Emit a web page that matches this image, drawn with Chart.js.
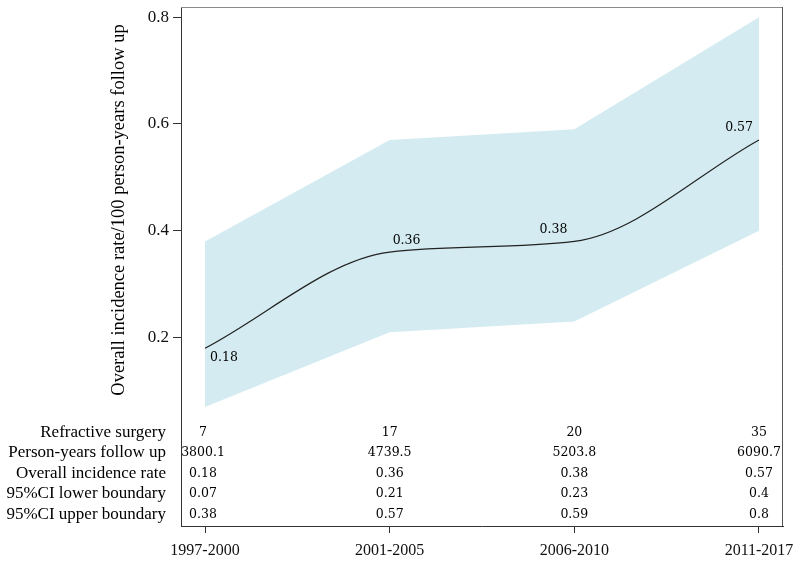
<!DOCTYPE html>
<html><head><meta charset="utf-8">
<script src="https://cdn.jsdelivr.net/npm/chart.js@4/dist/chart.umd.min.js"></script>
<style>html,body{margin:0;padding:0;background:#fff}#wrap{width:800px;height:563px;position:relative}</style>
</head><body><div id="wrap"><canvas id="c"></canvas></div>
<script>
const periods = ['1997-2000','2001-2005','2006-2010','2011-2017'];
const rates = [0.18, 0.36, 0.38, 0.57];
const ciLower = [0.07, 0.21, 0.23, 0.40];
const ciUpper = [0.38, 0.57, 0.59, 0.80];
const surgeries = [7, 17, 20, 35];
const personYears = ['3800.1', '4739.5', '5203.8', '6090.7'];
const yTicks = [0.2, 0.4, 0.6, 0.8];
const rowLabels = ['Refractive surgery','Person-years follow up','Overall incidence rate','95%CI lower boundary','95%CI upper boundary'];
const rowValues = [surgeries.map(String), personYears, rates.map(String), ciLower.map(String), ciUpper.map(String)];
const yTitle = 'Overall incidence rate/100 person-years follow up';

const SERIF = '"Liberation Serif", "Times New Roman", serif';
const NUMF = '"DejaVu Serif", serif';
const pts = arr => arr.map((v, i) => ({x: i, y: v}));

const extras = {
  id: 'extras',
  afterDatasetsDraw(chart) {
    const {ctx, chartArea: a, scales} = chart;
    ctx.save();
    // frame top/right
    ctx.strokeStyle = '#8a8a8a'; ctx.lineWidth = 1;
    ctx.beginPath(); ctx.moveTo(a.left, a.top + 0.5); ctx.lineTo(a.right, a.top + 0.5); ctx.stroke();
    ctx.strokeStyle = '#555';
    ctx.beginPath(); ctx.moveTo(a.right - 0.5, a.top); ctx.lineTo(a.right - 0.5, a.bottom); ctx.stroke();
    // point labels
    const meta = chart.getDatasetMeta(2);
    const offs = [[5, 10, 'left'], [3, -11, 'left'], [-7, -12, 'right'], [-6, -12, 'right']];
    ctx.fillStyle = '#000';
    ctx.font = '12.5px ' + NUMF;
    ctx.textBaseline = 'middle';
    meta.data.forEach((p, i) => {
      const o = offs[i];
      ctx.textAlign = o[2];
      ctx.fillText(rates[i].toString(), p.x + o[0], p.y + o[1]);
    });
    // table
    const rowY = [433, 453, 474, 494, 515];
    rowLabels.forEach((lab, r) => {
      ctx.font = '17px ' + SERIF; ctx.textAlign = 'right';
      ctx.fillText(lab, 166, rowY[r]);
      ctx.font = '12.5px ' + NUMF; ctx.textAlign = 'center';
      rowValues[r].forEach((v, i) => {
        ctx.fillText(v, scales.x.getPixelForValue(i) - (i === 0 ? 2 : 0), rowY[r]);
      });
    });
    // y title
    ctx.translate(119, 210);
    ctx.rotate(-Math.PI / 2);
    ctx.font = '18.5px ' + SERIF; ctx.textAlign = 'center';
    ctx.fillText(yTitle, 0, 0);
    ctx.restore();
  }
};

new Chart(document.getElementById('c'), {
  type: 'line',
  data: {
    datasets: [
      {data: pts(ciLower), borderWidth: 0, pointRadius: 0, tension: 0, fill: false, order: 3},
      {data: pts(ciUpper), borderWidth: 0, pointRadius: 0, tension: 0, fill: '-1', backgroundColor: 'rgb(212,236,241)', order: 2},
      {data: pts(rates), borderColor: '#222', borderWidth: 1.2, pointRadius: 0, cubicInterpolationMode: 'monotone', fill: false, order: 1}
    ]
  },
  options: {
    responsive: true, maintainAspectRatio: false, animation: false,
    layout: {padding: {top: 7, right: 17, left: 0, bottom: 0}},
    plugins: {legend: {display: false}, tooltip: {enabled: false}},
    scales: {
      x: {
        type: 'linear', min: -0.13, max: 3.13,
        afterBuildTicks: s => { s.ticks = periods.map((_, i) => ({value: i})); },
        afterFit: s => { s.height = 37; s.paddingLeft = 0; s.paddingRight = 0; },
        ticks: {callback: v => periods[v], font: {family: SERIF, size: 16}, color: '#111', padding: 8, maxRotation: 0, autoSkip: false},
        grid: {display: true, drawOnChartArea: false, drawTicks: true, tickLength: 7, color: '#333'},
        border: {display: true, color: '#333', width: 1}
      },
      y: {
        min: -0.153, max: 0.819,
        afterBuildTicks: s => { s.ticks = yTicks.map(v => ({value: v})); },
        afterFit: s => { s.width = 181; s.paddingTop = 0; s.paddingBottom = 0; },
        ticks: {callback: v => String(v), font: {family: SERIF, size: 17}, color: '#111', padding: 4},
        grid: {display: true, drawOnChartArea: false, drawTicks: true, tickLength: 8, color: '#333'},
        border: {display: true, color: '#333', width: 1}
      }
    }
  },
  plugins: [extras]
});
</script></body></html>
